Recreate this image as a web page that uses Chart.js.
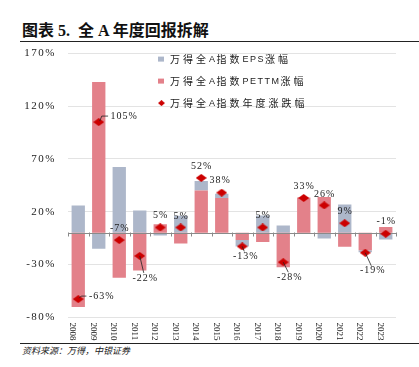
<!DOCTYPE html>
<html>
<head>
<meta charset="utf-8">
<script src="https://cdn.jsdelivr.net/npm/chart.js@4"></script>
<style>
  body { margin: 0; background: #fff; width: 419px; height: 367px; position: relative; overflow: hidden; }
  #title { position: absolute; left: 22px; top: 17px; font: bold 16px "Liberation Serif", "Noto Sans CJK SC", serif; color: #111; white-space: pre; }
  .rule { position: absolute; left: 20px; width: 399px; height: 1px; background: #222; }
  #source { position: absolute; left: 22px; top: 344px; font: italic 9px "Noto Sans CJK SC", sans-serif; color: #222; }
  #wrap { position: absolute; left: 0; top: 35px; width: 419px; height: 317px; }
</style>
</head>
<body>
<div id="title">图表 5.  全 A 年度回报拆解</div>
<div class="rule" style="top:41px"></div>
<div class="rule" style="top:343px"></div>
<div id="source">资料来源：万得，中银证券</div>
<div id="wrap"><canvas id="returnChart"></canvas></div>

<script>
// data (%)
const years = ["2008", "2009", "2010", "2011", "2012", "2013", "2014", "2015",
  "2016", "2017", "2018", "2019", "2020", "2021", "2022", "2023"];
const epsGrowth = [25.8, -15.3, 62.3, 21, -2.7, 16, 9, 4, -6, 16.3, 6.8, -1, -5.5, 26.7, -2, -6.5];
const peGrowth = [-70.5, 143, -42.8, -35.8, 8, -10.2, 40, 33, -7, -8.7, -32.7, 33.5, 34, -13.4, -16.6, 5.5];
const indexReturn = [-63, 105, -7, -22, 5, 5, 52, 38, -13, 5, -28, 33, 26, 9, -19, -1];
const yMin = -80, yMax = 170, yStep = 50;

const legendNames = ["万得全A指数EPS涨幅", "万得全A指数PETTM涨幅", "万得全A指数年度涨跌幅"];

// where each return label sits relative to its diamond (px)
const labelPlacement = [
  { dx: 23, dy: -3, leader: "right" },
  { dx: 25, dy: -6, leader: "right" },
  { dx: 0, dy: -12 },
  { dx: 5, dy: 22, leader: "below" },
  { dx: 0, dy: -12 },
  { dx: 0, dy: -11 },
  { dx: 0, dy: -12 },
  { dx: -2, dy: -12 },
  { dx: 3, dy: 10, leader: "below" },
  { dx: 0, dy: -12 },
  { dx: 6, dy: 15, leader: "below" },
  { dx: 0, dy: -12 },
  { dx: 0, dy: -11 },
  { dx: 0, dy: -12 },
  { dx: 7, dy: 18, leader: "below" },
  { dx: 0, dy: -12 }
];

const GREY = "#adb7ca";
const PINK = "#e3818a";
const RED = "#cc0000";

function makeDiamond(w, h, color) {
  const c = document.createElement("canvas");
  c.width = w; c.height = h;
  const g = c.getContext("2d");
  g.fillStyle = color;
  g.beginPath();
  g.moveTo(w / 2, 0); g.lineTo(w, h / 2); g.lineTo(w / 2, h); g.lineTo(0, h / 2);
  g.closePath(); g.fill();
  return c;
}
const diamond = makeDiamond(11, 8, RED);
const smallDiamond = makeDiamond(7, 6, RED);

const decorPlugin = {
  id: "decor",
  beforeDraw(chart) {
    chart.ctx.letterSpacing = "1.5px";
  },
  beforeDatasetDraw(chart, args) {
    if (args.index !== 2) return;
    // zero axis line with category ticks, over the bars
    const ctx = chart.ctx, area = chart.chartArea;
    const y0 = Math.round(chart.scales.y.getPixelForValue(0)) + 0.5;
    const step = (area.right - area.left) / years.length;
    ctx.save();
    ctx.strokeStyle = "#8a8a8a";
    ctx.lineWidth = 1;
    ctx.beginPath();
    ctx.moveTo(area.left, y0); ctx.lineTo(area.right, y0);
    for (let i = 0; i <= years.length; i++) {
      const x = Math.round(area.left + i * step) + 0.5;
      ctx.moveTo(x, y0 - 1); ctx.lineTo(x, y0 + 3);
    }
    ctx.stroke();
    ctx.restore();
  },
  afterDraw(chart) {
    const ctx = chart.ctx, area = chart.chartArea;
    const xs = chart.scales.x;
    ctx.save();
    ctx.letterSpacing = "0px";

    // rotated year labels
    ctx.fillStyle = "#222";
    ctx.font = "9px 'Liberation Serif'";
    ctx.textAlign = "left";
    ctx.textBaseline = "middle";
    years.forEach((yr, i) => {
      ctx.save();
      ctx.translate(xs.getPixelForValue(i) - 5.5, area.bottom + 5.5);
      ctx.rotate(Math.PI / 2);
      ctx.fillText(yr, 0, 0);
      ctx.restore();
    });

    // return labels
    const meta = chart.getDatasetMeta(2);
    ctx.font = "10px 'Liberation Serif'";
    ctx.letterSpacing = "1px";
    ctx.textAlign = "center";
    ctx.strokeStyle = "#222";
    ctx.lineWidth = 0.8;
    meta.data.forEach((pt, i) => {
      const p = labelPlacement[i];
      const txt = indexReturn[i] + "%";
      const lx = pt.x + p.dx, ly = pt.y + p.dy;
      const w = ctx.measureText(txt).width;
      if (p.leader === "right") {
        ctx.beginPath();
        ctx.moveTo(pt.x + 1, pt.y - 1);
        ctx.lineTo(pt.x + 3, ly);
        ctx.lineTo(lx - w / 2 - 2, ly);
        ctx.stroke();
      } else if (p.leader === "below") {
        ctx.beginPath();
        ctx.moveTo(pt.x, pt.y);
        ctx.lineTo(lx - 1, ly - 5);
        ctx.stroke();
      }
      ctx.fillText(txt, lx + 0.5, ly);
    });

    // legend
    const lgX = area.left + 90;
    const rows = [area.top + 5, area.top + 27, area.top + 49.5];
    const marks = [GREY, PINK, null];
    ctx.textAlign = "left";
    ctx.letterSpacing = "0px";
    legendNames.forEach((name, r) => {
      const y = rows[r];
      if (marks[r]) {
        ctx.fillStyle = marks[r];
        ctx.fillRect(lgX, y - 2, 6, 5);
      } else {
        ctx.drawImage(smallDiamond, lgX, y - 3);
      }
      ctx.fillStyle = "#222";
      let x = lgX + 12;
      for (const ch of name) {
        if (/[A-Za-z]/.test(ch)) {
          ctx.font = "9px 'Liberation Sans'";
          ctx.fillText(ch, x, y + 0.5);
          x += ctx.measureText(ch).width + 1.5;
        } else {
          ctx.font = "10px 'Noto Sans CJK SC'";
          ctx.fillText(ch, x, y + 0.5);
          x += 13;
        }
      }
    });
    ctx.restore();
  }
};

new Chart(document.getElementById("returnChart"), {
  type: "bar",
  data: {
    labels: years,
    datasets: [
      { label: legendNames[1], data: peGrowth, backgroundColor: PINK, order: 1 },
      { label: legendNames[0], data: epsGrowth, backgroundColor: GREY, order: 1 },
      {
        type: "line", label: legendNames[2], data: indexReturn, order: 0,
        showLine: false, pointStyle: diamond, pointRadius: 6, pointHoverRadius: 6
      }
    ]
  },
  options: {
    responsive: true,
    maintainAspectRatio: false,
    animation: false,
    events: [],
    layout: { autoPadding: false, padding: { left: 0, right: 23, top: 0, bottom: 27 } },
    plugins: { legend: { display: false }, tooltip: { enabled: false } },
    datasets: { bar: { barPercentage: 0.65, categoryPercentage: 1 } },
    scales: {
      x: {
        stacked: true,
        grid: { display: false },
        border: { display: false },
        ticks: { display: false }
      },
      y: {
        stacked: true,
        min: yMin, max: yMax,
        afterFit(scale) { scale.width = 68; },
        grid: { color: "#e3e3e3", lineWidth: 1, drawTicks: false },
        border: { display: false },
        ticks: {
          stepSize: yStep,
          padding: 12,
          color: "#222",
          font: { family: "Liberation Serif", size: 11 },
          callback: v => v + "%"
        }
      }
    }
  },
  plugins: [decorPlugin]
});
</script>
</body>
</html>
